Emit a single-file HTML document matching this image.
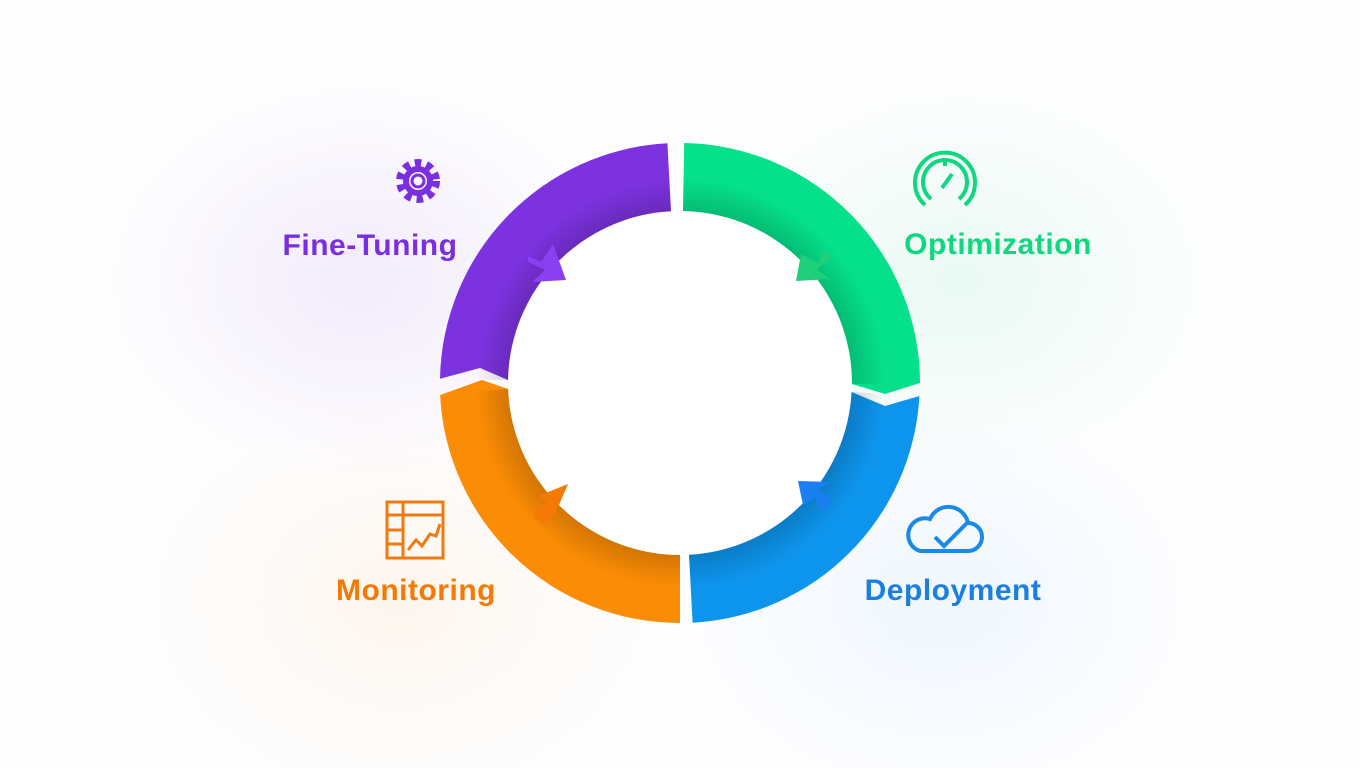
<!DOCTYPE html>
<html><head><style>
html,body{margin:0;padding:0;width:1360px;height:768px;overflow:hidden;background:#fff}
body{background:
radial-gradient(ellipse 360px 280px at 360px 280px,rgba(210,185,245,.25),transparent 70%),
radial-gradient(ellipse 360px 280px at 960px 280px,rgba(180,240,215,.25),transparent 70%),
radial-gradient(ellipse 360px 280px at 400px 600px,rgba(255,220,180,.22),transparent 70%),
radial-gradient(ellipse 360px 280px at 940px 600px,rgba(190,225,250,.22),transparent 70%),#fdfdfe}
svg{position:absolute;left:0;top:0}
text{font-family:"Liberation Sans",sans-serif;font-weight:bold;font-size:30px;letter-spacing:0.5px}
</style></head><body>
<svg width="1360" height="768" viewBox="0 0 1360 768">
<defs>
<radialGradient id="sh" cx="680" cy="383" r="240" gradientUnits="userSpaceOnUse">
<stop offset="0.7" stop-color="#000" stop-opacity="0.18"/><stop offset="0.85" stop-color="#000" stop-opacity="0"/></radialGradient>
</defs>
<path d="M440,378.8 A240,240 0 0 1 667.4,143.3 L671,211.2 A172,172 0 0 0 508,380 L480,368 Z" fill="#7d32e0"/>
<path d="M684.2,143 A240,240 0 0 1 920,383 L885,394 L852,384 A172,172 0 0 0 683,211 Z" fill="#05e08a"/>
<path d="M919.4,396 A240,240 0 0 1 692.6,622.7 L689,554.8 A172,172 0 0 0 851.6,392 L885,406 Z" fill="#0d94ec"/>
<path d="M680,623 A240,240 0 0 1 440.1,395 L482,380 L508.1,389 A172,172 0 0 0 680,555 Z" fill="#fb8c05"/>
<path d="M440,378.8 A240,240 0 0 1 667.4,143.3 L671,211.2 A172,172 0 0 0 508,380Z M684.2,143 A240,240 0 0 1 920,383 L852,384 A172,172 0 0 0 683,211Z M919.4,396 A240,240 0 0 1 692.6,622.7 L689,554.8 A172,172 0 0 0 851.6,392Z M680,623 A240,240 0 0 1 440.1,395 L508.1,389 A172,172 0 0 0 680,555Z" fill="url(#sh)"/>
<circle cx="680" cy="383" r="171" fill="#fff"/>
<polygon points="528,256 541,262 553,244 566,280 532,282 545,270 528,262" fill="#8a3ff0"/>
<polygon points="824,250 818,263 801,254 796,281 830,279 817,269 832,258" fill="#1fcf7a"/>
<polygon points="822,512 815,497 803,505 798,481 830,482 818,489 832,500" fill="#1a7ff0"/>
<polygon points="534,516 545,526 556,512 568,484 538,496 548,502 535,508" fill="#f47a05"/>
<g fill="none" stroke="#7a2ee0" stroke-width="7" transform="translate(418,181)">
<circle r="17" stroke-dasharray="6 5" stroke-width="10"/><circle r="12" stroke-width="6"/><circle r="6" stroke-width="3"/></g>
<g fill="none" stroke="#10d880" stroke-width="4">
<path d="M925,205 A30,30 0 1 1 965,205"/><path d="M931,199 A22,22 0 1 1 959,199"/><path d="M945,158v8M942,188l10,-14"/></g>
<g fill="none" stroke="#f07a10" stroke-width="3">
<rect x="387" y="502" width="56" height="56"/><path d="M387,515h56M403,502v56M387,530h16M387,544h16M408,550l8,-10 6,6 8,-12 6,2 4,-12"/></g>
<g fill="none" stroke="#1a8ae6" stroke-width="4">
<path d="M920,551h48a14,14 0 0 0 0,-28a20,20 0 0 0,-38,-4a14,14 0 0 0,-10,32z"/><path d="M935,537l9,9 24,-24"/></g>
<text x="370" y="255" text-anchor="middle" fill="#7a2ee0">Fine-Tuning</text>
<text x="998" y="254" text-anchor="middle" fill="#10d880">Optimization</text>
<text x="416" y="600" text-anchor="middle" fill="#f47a05">Monitoring</text>
<text x="953" y="600" text-anchor="middle" fill="#1a7fe0">Deployment</text>
</svg>
</body></html>
